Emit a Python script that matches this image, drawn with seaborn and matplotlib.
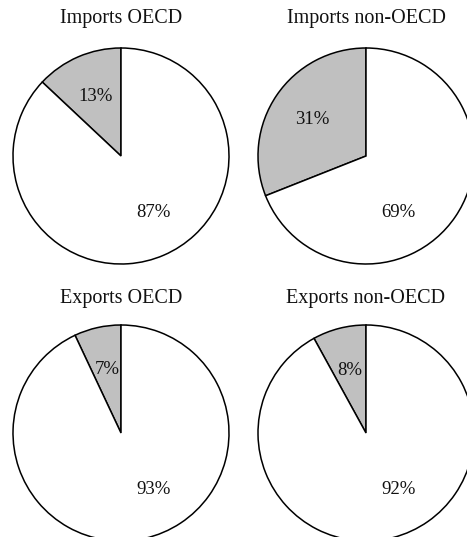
import matplotlib
matplotlib.use("Agg")
import matplotlib.pyplot as plt
import seaborn as sns

# ---- data ----
panel_titles = ["Imports OECD", "Imports non-OECD", "Exports OECD", "Exports non-OECD"]
share_small = [13, 31, 7, 8]
share_large = [87, 69, 93, 92]
slice_colors = ["#c0c0c0", "#ffffff"]

sns.set_theme(style="white")
plt.rcParams["font.family"] = ["Liberation Serif", "DejaVu Serif"]

W, H = 467, 537
fig = plt.figure(figsize=(W / 100, H / 100), dpi=100)
fig.patch.set_facecolor("white")

R = 108  # radius in px
centers = [(121, 156), (366, 156), (121, 433), (366, 433)]
title_y = [18, 18, 298, 298]

for i, (cx, cy) in enumerate(centers):
    ax = fig.add_axes([(cx - R) / W, 1 - (cy + R) / H, 2 * R / W, 2 * R / H])
    wedges, texts, autotexts = ax.pie(
        [share_small[i], share_large[i]],
        colors=slice_colors,
        startangle=90,
        counterclock=True,
        autopct="%d%%",
        pctdistance=0.6,
        radius=1.0,
        wedgeprops=dict(edgecolor="black", linewidth=1.1),
        textprops=dict(fontsize=13.5, color="#111111"),
    )
    # large-slice label sits lower right of centre
    autotexts[1].set_position((0.30, -0.52))
    ax.set_xlim(-1, 1)
    ax.set_ylim(-1, 1)
    ax.set_aspect("equal")
    ax.axis("off")
    fig.text(cx / W, 1 - title_y[i] / H, panel_titles[i], ha="center", va="center",
             fontsize=14.5, color="#111111")

fig.savefig("out.png", dpi=100)
